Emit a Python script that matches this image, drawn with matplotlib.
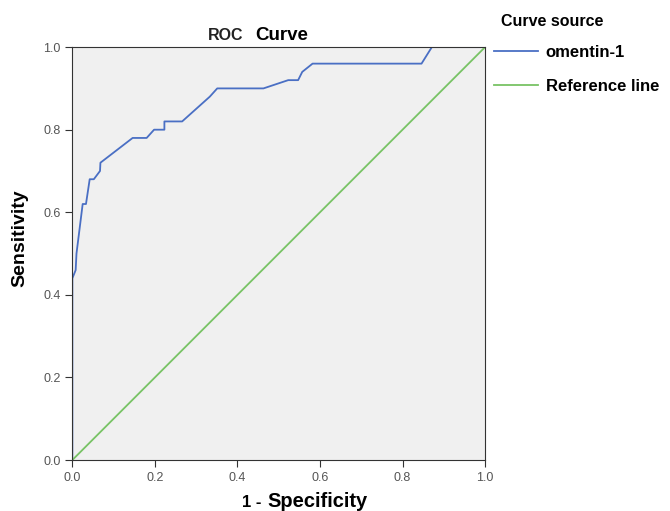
import matplotlib.pyplot as plt

plt.rcParams['font.family'] = ['Liberation Sans', 'DejaVu Sans']

# ROC points for omentin-1 (1 - specificity, sensitivity)
fpr = [0.0, 0.0, 0.008, 0.010, 0.025, 0.033, 0.042, 0.052, 0.067, 0.068,
       0.146, 0.180, 0.198, 0.223, 0.223, 0.266, 0.333, 0.351, 0.463,
       0.523, 0.547, 0.557, 0.582, 0.846, 0.871, 1.0]
tpr = [0.0, 0.44, 0.46, 0.50, 0.62, 0.62, 0.68, 0.68, 0.70, 0.72,
       0.78, 0.78, 0.80, 0.80, 0.82, 0.82, 0.88, 0.90, 0.90,
       0.92, 0.92, 0.94, 0.96, 0.96, 1.0, 1.0]
ref = [0.0, 1.0]
ticks = [0.0, 0.2, 0.4, 0.6, 0.8, 1.0]

W, H = 670, 511
fig = plt.figure(figsize=(6.7, 5.11), dpi=100)
ax = fig.add_axes([0.108, 0.0998, 0.616, 0.808])
ax.set_facecolor('#f0f0f0')

ax.plot(fpr, tpr, color='#4a6fc4', lw=1.3, label='omentin-1')
ax.plot(ref, ref, color='#78c365', lw=1.3, label='Reference line')

ax.set_xlim(0, 1)
ax.set_ylim(0, 1)
ax.set_xticks(ticks)
ax.set_yticks(ticks)
ax.set_xticklabels(['%.1f' % t for t in ticks])
ax.set_yticklabels(['%.1f' % t for t in ticks])
ax.tick_params(colors='#333333', labelcolor='#555555', labelsize=9, length=5)
for s in ax.spines.values():
    s.set_color('#333333')

# title and axis labels, with the smaller "ROC" and "1" as in the original
fig.text(208 / W, 1 - 40 / H, 'ROC', fontsize=11.5, fontweight='bold',
         ha='left', va='baseline', color='#222222')
fig.text(255 / W, 1 - 40 / H, 'Curve', fontsize=13.5, fontweight='bold',
         ha='left', va='baseline')
fig.text(242 / W, 1 - 507 / H, '1 -', fontsize=12, fontweight='bold',
         ha='left', va='baseline')
fig.text(267 / W, 1 - 507 / H, 'Specificity', fontsize=14.5, fontweight='bold',
         ha='left', va='baseline')
fig.text(20 / W, 1 - 238 / H, 'Sensitivity', fontsize=14, fontweight='bold',
         rotation=90, ha='center', va='center')

# legend outside the plot on the right
fig.text(501 / W, 1 - 26 / H, 'Curve source', fontsize=11.5, fontweight='bold',
         ha='left', va='baseline')
leg = ax.legend(loc='upper left', bbox_to_anchor=(494 / W, 1 - 45 / H),
                bbox_transform=fig.transFigure, frameon=False,
                fontsize=12, handlelength=2.64,
                handletextpad=0.45, labelspacing=1.12, borderaxespad=0,
                borderpad=0)
for t in leg.get_texts():
    t.set_fontweight('bold')

fig.savefig('out.png', dpi=100)
